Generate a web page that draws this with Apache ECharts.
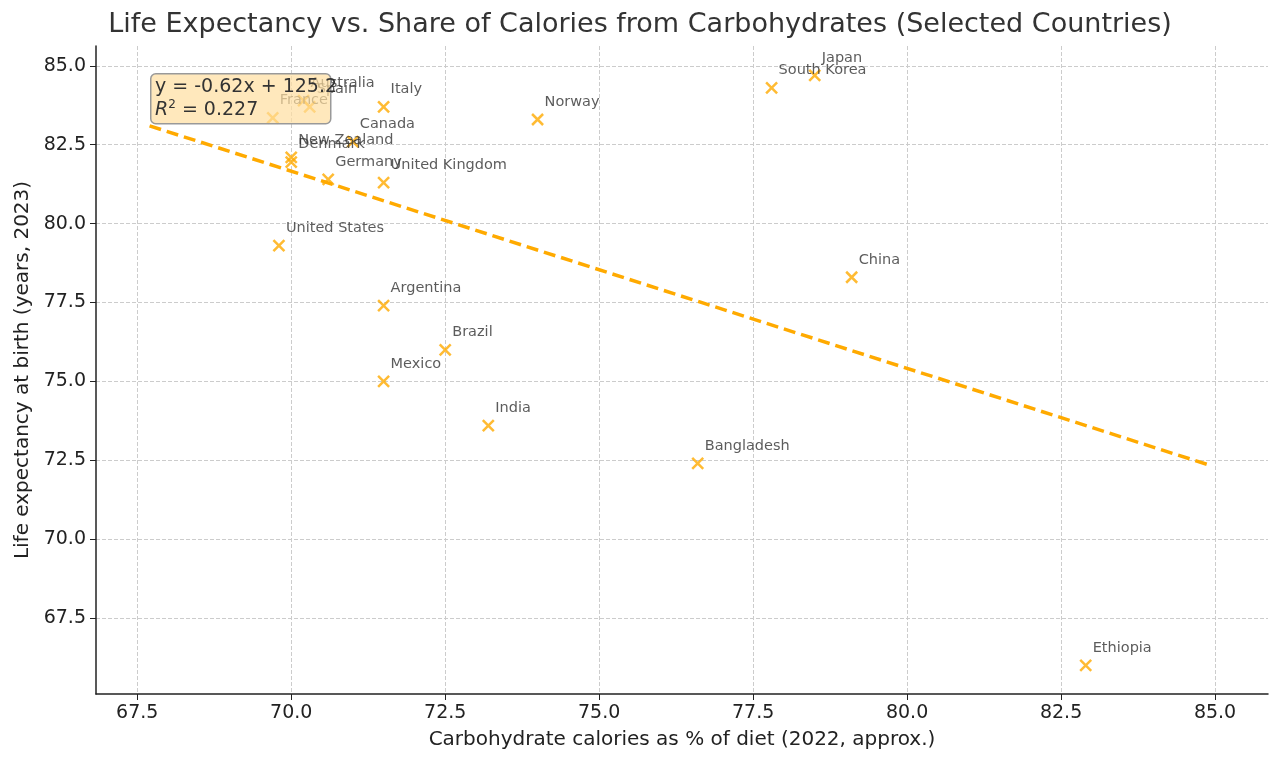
<!DOCTYPE html>
<html>
<head>
<meta charset="utf-8">
<script src="https://cdn.jsdelivr.net/npm/echarts@6/dist/echarts.min.js"></script>
<style>html,body{margin:0;padding:0;background:#fff}#main{width:1280px;height:763px}</style>
</head>
<body>
<div id="main"></div>
<script>
// data
var countries = ['France', 'Australia', 'Spain', 'Italy', 'Canada', 'New Zealand', 'Denmark', 'Germany',
    'United Kingdom', 'United States', 'Norway', 'South Korea', 'Japan', 'China', 'Argentina', 'Brazil',
    'Mexico', 'India', 'Bangladesh', 'Ethiopia'];
var carbShare = [69.7, 70.2, 70.3, 71.5, 71.0, 70.0, 70.0, 70.6, 71.5, 69.8, 74.0, 77.8, 78.5, 79.1, 71.5, 72.5,
    71.5, 73.2, 76.6, 82.9];
var lifeExp = [83.35, 83.9, 83.7, 83.7, 82.6, 82.1, 81.95, 81.4, 81.3, 79.3, 83.3, 84.3, 84.7, 78.3, 77.4, 76.0,
    75.0, 73.6, 72.4, 66.0];
var trendX = [67.7, 84.9];
var trendY = [83.1, 72.35];
var xTicks = [67.5, 70, 72.5, 75, 77.5, 80, 82.5, 85];
var yTicks = [67.5, 70, 72.5, 75, 77.5, 80, 82.5, 85];

var points = [];
for (var i = 0; i < countries.length; i++) {
    points.push({ name: countries[i], value: [carbShare[i], lifeExp[i]] });
}
var trend = trendX.map(function (x, i) { return [x, trendY[i]]; });

var font = 'DejaVu Sans';
var myChart = echarts.init(document.getElementById('main'));
var option = {
    backgroundColor: '#fff',
    animation: false,
    textStyle: { fontFamily: font },
    title: {
        text: 'Life Expectancy vs. Share of Calories from Carbohydrates (Selected Countries)',
        left: 'center', top: 6,
        textStyle: { fontFamily: font, fontSize: 27, fontWeight: 'normal', color: '#333' }
    },
    grid: { left: 96, right: 12, top: 46, bottom: 69 },
    xAxis: {
        type: 'value', min: 66.83, max: 85.86,
        name: 'Carbohydrate calories as % of diet (2022, approx.)',
        nameLocation: 'middle', nameGap: 36,
        nameTextStyle: { fontSize: 20, color: '#222' },
        axisLine: { onZero: false, lineStyle: { color: '#222', width: 1.5 } },
        axisTick: { show: true, customValues: xTicks, length: 6, lineStyle: { color: '#222' } },
        axisLabel: { customValues: xTicks, fontSize: 19, color: '#222', margin: 10,
            formatter: function (v) { return v.toFixed(1); } },
        splitLine: { show: true, lineStyle: { color: '#ccc', type: 'dashed' } }
    },
    yAxis: {
        type: 'value', min: 65.09, max: 85.63,
        name: 'Life expectancy at birth (years, 2023)',
        nameLocation: 'middle', nameGap: 62,
        nameTextStyle: { fontSize: 20, color: '#222' },
        axisLine: { show: true, onZero: false, lineStyle: { color: '#222', width: 1.5 } },
        axisTick: { show: true, customValues: yTicks, length: 6, lineStyle: { color: '#222' } },
        axisLabel: { customValues: yTicks, fontSize: 19, color: '#222', margin: 10,
            formatter: function (v) { return v.toFixed(1); } },
        splitLine: { show: true, lineStyle: { color: '#ccc', type: 'dashed' } }
    },
    series: [
        {
            type: 'line', data: trend, symbol: 'none', z: 2,
            lineStyle: { color: '#ffaa00', width: 3.5, type: [12, 6] }
        },
        {
            type: 'scatter', data: points, z: 3,
            symbol: 'path://M0,0L10,10M10,0L0,10', symbolSize: 11,
            itemStyle: { color: 'none', borderColor: '#ffaa00', borderWidth: 2.5 },
            label: {
                show: true, position: [15, -17], formatter: '{b}',
                fontSize: 14.5, color: '#333', fontFamily: font
            }
        }
    ],
    graphic: [{
        type: 'rect', left: 150, top: 73, z: 10,
        shape: { width: 180, height: 50, r: 5 },
        style: { fill: 'rgba(255,222,160,0.7)', stroke: '#999', lineWidth: 1.5 }
    }, {
        type: 'text', left: 155, top: 76, z: 11,
        style: {
            text: 'y = -0.62x + 125.2\n{i|R}{s|2} = 0.227',
            font: '19px DejaVu Sans', fill: '#333', lineHeight: 23,
            rich: {
                i: { fontStyle: 'italic', fontSize: 19, fontFamily: font },
                s: { fontSize: 12, verticalAlign: 'top', padding: [0, 0, 8, 0], fontFamily: font }
            }
        }
    }]
};
myChart.setOption(option);
</script>
</body>
</html>
